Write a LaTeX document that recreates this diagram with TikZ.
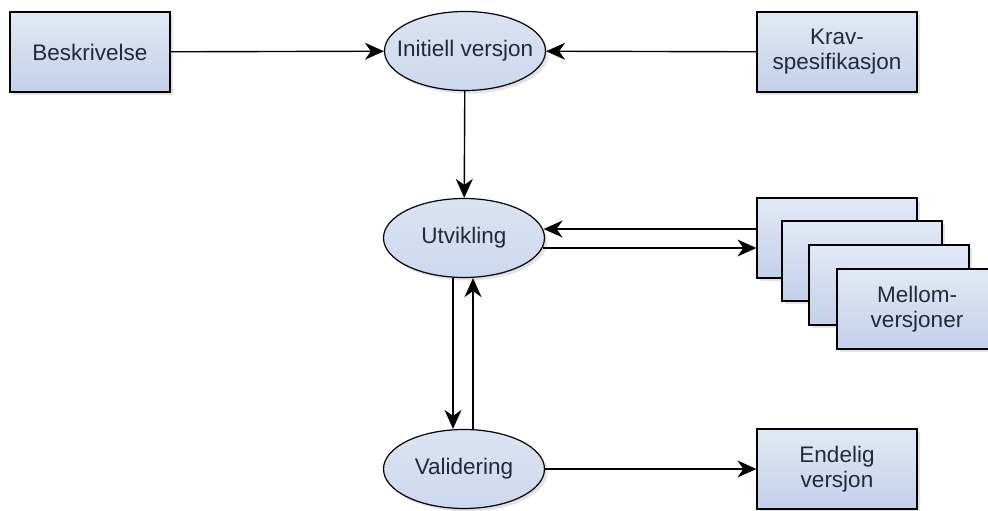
\documentclass[tikz,border=0pt]{standalone}
\usepackage{fontspec}
\setmainfont{Liberation Sans}
\usetikzlibrary{shapes.geometric,arrows.meta,shadows}
\definecolor{boxtop}{HTML}{E2E9F6}
\definecolor{boxbot}{HTML}{C2D0E9}
\definecolor{ellfill}{HTML}{CCD8EE}
\definecolor{txt}{HTML}{1F2A3A}
\tikzset{
  base/.style={draw=black, line width=1.2pt, text=txt, font=\fontsize{22.5}{25}\selectfont,
    align=center, inner sep=0pt,
    drop shadow={shadow xshift=3pt, shadow yshift=-3pt, opacity=0.18, fill=black!60}},
  box/.style={base, rectangle, minimum width=160pt, minimum height=80pt,
    top color=boxtop, bottom color=boxbot},
  oval/.style={base, ellipse, minimum width=161pt, minimum height=79pt, inner xsep=-40pt,
    top color=ellfill!70!white, bottom color=ellfill},
  arr/.style={line width=1.4pt, -{Stealth[length=19pt,width=17pt,inset=6pt]}},
}
\begin{document}
\begin{tikzpicture}[x=1pt,y=-1pt]
\useasboundingbox (0,0) rectangle (988,511);
\node[box] (besk) at (90,52) {Beskrivelse};
\node[oval] (init) at (465,51) {Initiell versjon};
\node[box] (krav) at (837,52) {Krav-\\spesifikasjon};
\node[oval] (utv) at (464,238) {Utvikling};
\node[box] (m1) at (837,238) {};
\node[box] (m2) at (862,261) {};
\node[box] (m3) at (889,285) {};
\node[box] (m4) at (917,309) {Mellom-\\versjoner};
\node[oval] (val) at (464,469) {Validering};
\node[box] (end) at (837,469) {Endelig\\versjon};
\draw[arr] (besk) -- (init);
\draw[arr] (krav) -- (init);
\draw[arr] (init) -- (utv);
\draw[arr] ([yshift=9pt]m1.west) -- ([yshift=9pt,xshift=-1.5pt]utv.east);
\draw[arr] ([yshift=-10pt,xshift=-2pt]utv.east) -- ([yshift=-10pt]m1.west);
\draw[arr] ([xshift=-11pt]utv.south) -- ([xshift=-11pt]val.north);
\draw[arr] ([xshift=9pt]val.north) -- ([xshift=9pt]utv.south);
\draw[arr] (val) -- (end);
\end{tikzpicture}
\end{document}
